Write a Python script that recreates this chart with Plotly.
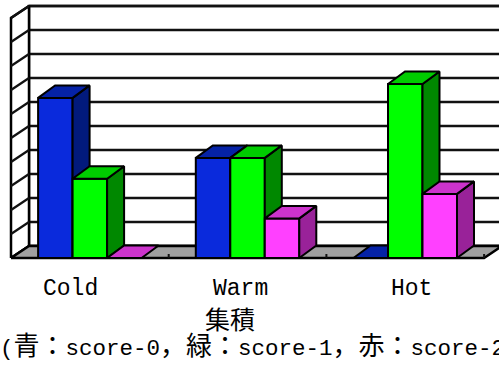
import plotly.graph_objects as go

# Share of each score within every temperature class
categories = ["Cold", "Warm", "Hot"]
score0 = [0.667, 0.417, 0.0]    # 青
score1 = [0.33, 0.417, 0.725]   # 緑
score2 = [0.0, 0.165, 0.267]    # 赤
grid_steps = [i / 10 for i in range(11)]

title_text = "集積"
caption_parts = ["(", "青：", "score-0", "，緑：", "score-1", "，赤：", "score-2)"]

# Face colours per series: (front, top, side)
series_colors = [
    ("#0A2ADC", "#0522A6", "#021A7C"),
    ("#00FF00", "#00CC00", "#008800"),
    ("#FF40FF", "#CC33CC", "#992299"),
]
series_values = [score0, score1, score2]

W, H = 499, 368
PX_PER_CAT = 157.7     # horizontal pixels per category on the front plane
PX_PER_UNIT = 240.0    # vertical pixels per unit value
FRONT_LEFT_PX = 11
FLOOR_PX = 258

# oblique depth offsets (in data units)
wall_dx, wall_dy = 18 / PX_PER_CAT, 12 / PX_PER_UNIT
bar_dx, bar_dy = 17 / PX_PER_CAT, 12.5 / PX_PER_UNIT
bar_w = 34.5 / PX_PER_CAT
n = len(categories)

fig = go.Figure()


def poly(xs, ys, fill=None, width=2.0, color="black"):
    xs = list(xs) + [xs[0]]
    ys = list(ys) + [ys[0]]
    fig.add_trace(go.Scatter(
        x=xs, y=ys, mode="lines",
        fill="toself" if fill else None, fillcolor=fill,
        line=dict(color=color, width=width),
        hoverinfo="skip", showlegend=False,
    ))


def seg(xs, ys, width=2.5, color="#111111"):
    fig.add_trace(go.Scatter(
        x=xs, y=ys, mode="lines", line=dict(color=color, width=width),
        hoverinfo="skip", showlegend=False,
    ))


# back wall
poly([wall_dx, n + wall_dx, n + wall_dx, wall_dx],
     [wall_dy, wall_dy, 1 + wall_dy, 1 + wall_dy], fill="white", width=2.5)
for g in grid_steps:
    seg([wall_dx, n + wall_dx], [g + wall_dy, g + wall_dy])

# left wall with its slanted grid lines
poly([0, wall_dx, wall_dx, 0], [0, wall_dy, 1 + wall_dy, 1], fill="white", width=2.5)
for g in grid_steps:
    seg([0, wall_dx], [g, g + wall_dy], width=2.2)

# floor
poly([0, n, n + wall_dx, wall_dx], [0, 0, wall_dy, wall_dy], fill="#A0A0A0", width=2.5)
# category ticks along the front edge of the floor
for k in range(1, n + 1):
    seg([k, k], [0, 4 / PX_PER_UNIT], width=2)

# bars, drawn left to right so nearer faces cover hidden ones
for i in range(n):
    x_start = i + 0.5 - 1.5 * bar_w
    for s, vals in enumerate(series_values):
        v = vals[i]
        front, top, side = series_colors[s]
        x0 = x_start + s * bar_w
        x1 = x0 + bar_w
        if v > 0:
            poly([x0, x1, x1, x0], [0, 0, v, v], fill=front)
            poly([x1, x1 + bar_dx, x1 + bar_dx, x1], [0, bar_dy, v + bar_dy, v], fill=side)
        poly([x0, x1, x1 + bar_dx, x0 + bar_dx], [v, v, v + bar_dy, v + bar_dy], fill=top)

# category labels
label_font = dict(family="Liberation Mono, Noto Sans CJK JP", size=23, color="black")
annotations = []
for i, name in enumerate(categories):
    annotations.append(dict(
        x=0.375 + 1.081 * i, xref="x", y=1 - 289 / H, yref="paper",
        text=name, showarrow=False, xanchor="center", yanchor="middle", font=label_font,
    ))

annotations.append(dict(
    x=230 / W, xref="paper", y=1 - 318 / H, yref="paper",
    text=title_text, showarrow=False, xanchor="center", yanchor="middle",
    font=dict(family="Noto Sans CJK JP", size=25, color="black"),
))

cjk = '<span style="font-size:26px">{}</span>'
caption = "".join(cjk.format(p) if any(ord(c) > 0x2000 for c in p) else p for p in caption_parts)
annotations.append(dict(
    x=-2 / W, xref="paper", y=1 - 347 / H, yref="paper",
    text=caption, showarrow=False, xanchor="left", yanchor="middle",
    font=dict(family="Liberation Mono, Noto Sans CJK JP", size=22.5, color="black"),
))

fig.update_layout(
    width=W, height=H, autosize=False,
    margin=dict(l=0, r=0, t=0, b=0, pad=0),
    paper_bgcolor="white", plot_bgcolor="white",
    xaxis=dict(visible=False, range=[-FRONT_LEFT_PX / PX_PER_CAT, (W - FRONT_LEFT_PX) / PX_PER_CAT],
               fixedrange=True),
    yaxis=dict(visible=False, range=[(FLOOR_PX - H) / PX_PER_UNIT, FLOOR_PX / PX_PER_UNIT],
               fixedrange=True),
    annotations=annotations,
    showlegend=False,
)

fig.write_html("out.html")
